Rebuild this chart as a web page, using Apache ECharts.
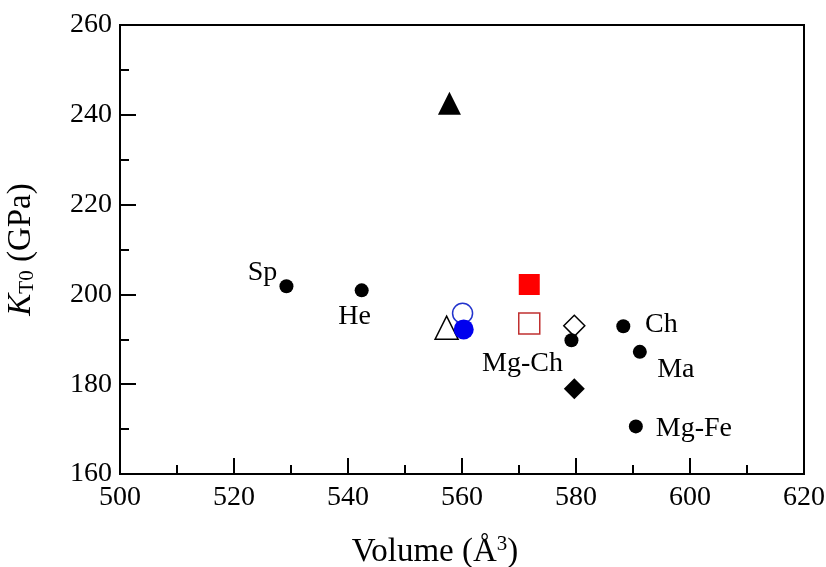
<!DOCTYPE html>
<html>
<head>
<meta charset="UTF-8">
<title>KT0 vs Volume</title>
<style>
  html, body { margin: 0; padding: 0; background: #fff; }
  #chart { width: 826px; height: 567px; }
</style>
<script src="https://cdn.jsdelivr.net/npm/echarts@6/dist/echarts.min.js"></script>
</head>
<body>
<div id="chart"></div>
<script>
  // labelled reference points (black dots)
  const refNames = ["Sp", "He", "Mg-Ch", "Ch", "Ma", "Mg-Fe"];
  const refVolume = [529.2, 542.4, 579.2, 588.3, 591.2, 590.5];
  const refK = [201.8, 200.9, 189.8, 192.9, 187.2, 170.6];
  const labelOffsets = [[-24, -14], [-7, 26], [-49, 23], [38, -2], [36, 18], [58, 2]];

  // single marker points
  const filledTriangle = [557.8, 242.6];
  const openTriangle = [557.3, 192.6];
  const openBlueCircle = [560.1, 195.8];
  const filledBlueCircle = [560.3, 192.2];
  const filledRedSquare = [571.8, 202.2];
  const openRedSquare = [571.8, 193.5];
  const openDiamond = [579.7, 193.0];
  const filledDiamond = [579.7, 179.0];

  const xTicks = [500, 620, 20];
  const yTicks = [160, 260, 20];

  const FONT = "Liberation Serif";
  const chart = echarts.init(document.getElementById("chart"));

  function single(point, symbol, size, fill, border, bw) {
    return {
      type: "scatter",
      data: [point],
      symbol: symbol,
      symbolSize: size,
      itemStyle: { color: fill, borderColor: border, borderWidth: bw || 0, opacity: 1 },
      emphasis: { disabled: true },
      z: 3
    };
  }

  const refData = refNames.map((n, i) => ({
    value: [refVolume[i], refK[i]],
    label: { offset: labelOffsets[i] }
  }));

  const option = {
    animation: false,
    grid: {
      left: 120, right: 22, top: 25, bottom: 93,
      containLabel: false,
      outerBoundsMode: "none",
      show: true, borderColor: "#000", borderWidth: 2
    },
    xAxis: {
      type: "value",
      min: xTicks[0], max: xTicks[1], interval: xTicks[2],
      name: "Volume (Å{sup|3})",
      nameLocation: "middle",
      nameGap: 60,
      nameTextStyle: {
        fontFamily: FONT, fontSize: 33, color: "#000",
        padding: [0, 54, 0, 0],
        rich: {
          sup: { fontFamily: FONT, fontSize: 21, color: "#000", padding: [0, 0, 16, 0] }
        }
      },
      axisLine: { lineStyle: { color: "#000", width: 2 } },
      axisTick: { inside: true, length: 16, lineStyle: { color: "#000", width: 2 } },
      minorTick: { show: true, splitNumber: 2, length: 9, lineStyle: { color: "#000", width: 2 } },
      axisLabel: { fontFamily: FONT, fontSize: 28, color: "#000", margin: 10 },
      splitLine: { show: false }
    },
    yAxis: {
      type: "value",
      min: yTicks[0], max: yTicks[1], interval: yTicks[2],
      name: "{i|K}{s|T0} (GPa)",
      nameLocation: "middle",
      nameGap: 82,
      nameRotate: 90,
      nameTextStyle: {
        fontFamily: FONT, fontSize: 33, color: "#000",
        rich: {
          i: { fontFamily: FONT, fontSize: 33, fontStyle: "italic", color: "#000" },
          s: { fontFamily: FONT, fontSize: 21, color: "#000", padding: [13, 0, 0, 0] }
        }
      },
      axisLine: { lineStyle: { color: "#000", width: 2 } },
      axisTick: { inside: true, length: 16, lineStyle: { color: "#000", width: 2 } },
      minorTick: { show: true, splitNumber: 2, length: 9, lineStyle: { color: "#000", width: 2 } },
      axisLabel: { fontFamily: FONT, fontSize: 28, color: "#000", margin: 8 },
      splitLine: { show: false }
    },
    series: [
      single(filledTriangle, "triangle", 23, "#000", "#000", 0),
      single(openTriangle, "triangle", 23, "#fff", "#000", 1.5),
      single(openBlueCircle, "circle", 20, "#fff", "#2233cc", 1.5),
      single(filledBlueCircle, "circle", 20, "#0000ee", "#0000ee", 0),
      single(filledRedSquare, "rect", 21, "#ff0000", "#ff0000", 0),
      single(openRedSquare, "rect", 21, "#fff", "#c03030", 1.5),
      single(openDiamond, "diamond", 21, "#fff", "#000", 1.5),
      single(filledDiamond, "diamond", 21, "#000", "#000", 0),
      {
        type: "scatter",
        data: refData,
        symbol: "circle",
        symbolSize: 14,
        itemStyle: { color: "#000", opacity: 1 },
        emphasis: { disabled: true },
        z: 4,
        label: {
          show: true,
          position: "inside",
          formatter: (p) => refNames[p.dataIndex],
          fontFamily: FONT,
          fontSize: 28,
          color: "#000",
          textBorderWidth: 0
        }
      }
    ]
  };

  chart.setOption(option);
</script>
</body>
</html>
